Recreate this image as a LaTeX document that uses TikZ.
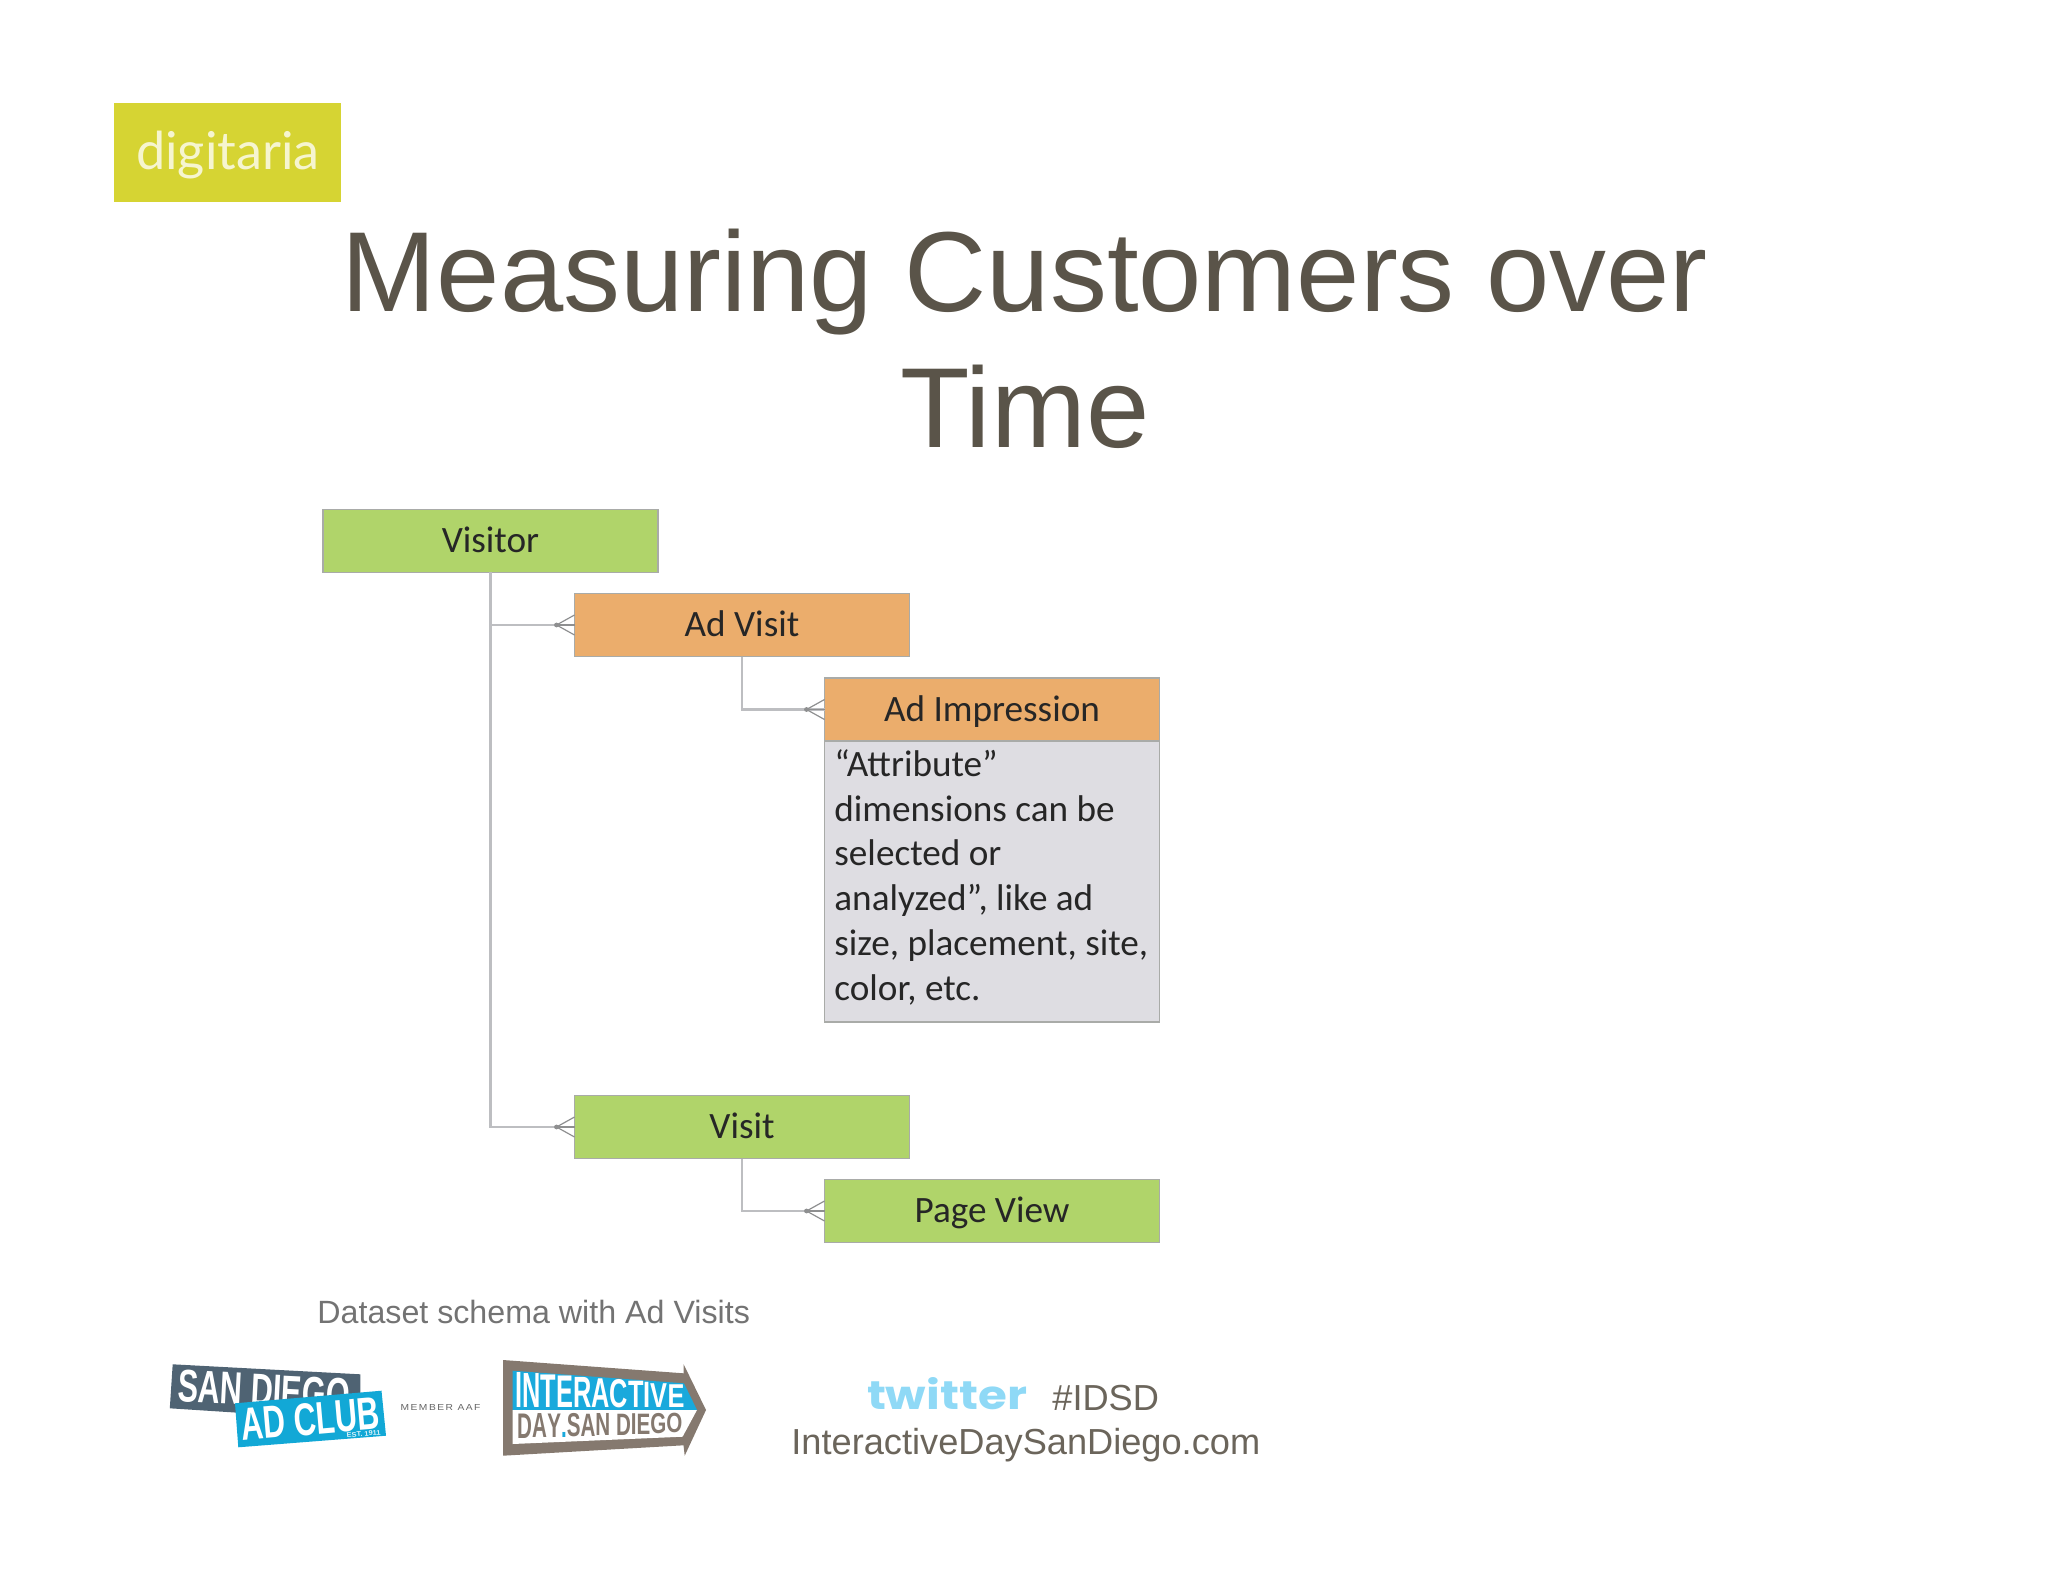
\documentclass[tikz,border=0pt]{standalone}
\usepackage{fontspec}
\usepackage{graphicx}
\setmainfont{Liberation Sans}
\newfontfamily\calfont{Carlito}
\newfontfamily\latofont{Lato}
\newfontfamily\popfont{Poppins}
\definecolor{titlegray}{HTML}{5A5449}
\definecolor{boxgreen}{HTML}{B0D46A}
\definecolor{boxorange}{HTML}{EBAD6C}
\definecolor{boxgray}{HTML}{DEDDE2}
\definecolor{boxline}{HTML}{A9ABA8}
\definecolor{connline}{HTML}{BDBEC1}
\definecolor{crowline}{HTML}{8E8F90}
\definecolor{clubdark}{HTML}{4F6373}
\definecolor{clubblue}{HTML}{12A8D6}
\definecolor{arrowbrown}{HTML}{85796F}
\definecolor{arrowblue}{HTML}{19A9DC}
\definecolor{digilime}{HTML}{D6D433}
\definecolor{digitext}{HTML}{F6F5CF}
\definecolor{twitblue}{HTML}{8FD9F6}
\newcommand\dropl[2]{\raisebox{\fpeval{(1-#1)*0.72}em}{\scalebox{1}[#1]{#2}}}
\newcommand\risel[2]{\scalebox{1}[#1]{#2}}
\newcommand\crowfoot[1]{%
  \draw[crow] ([shift={(-18,0)}]#1.west) -- ([shift={(0,-10)}]#1.west);
  \draw[crow] ([shift={(-18,0)}]#1.west) -- ([shift={(0,10)}]#1.west);
  \draw[crow] ([shift={(-18,0)}]#1.west) -- (#1.west);
  \fill[crowline] ([shift={(-18,0)}]#1.west) circle[radius=1.2pt];
}
\tikzset{
  entity/.style={draw=boxline,line width=0.9pt,minimum width=167.5pt,minimum height=31.5pt,inner sep=0pt,outer sep=0pt,
    text height=11.8pt,text depth=0pt,
    font=\calfont\fontsize{18.6}{22.4}\selectfont,text=black!85},
  greenbox/.style={entity,fill=boxgreen},
  orangebox/.style={entity,fill=boxorange},
  conn/.style={draw=connline,line width=1.1pt},
  crow/.style={draw=crowline,line width=0.6pt},
  logotext/.style={inner sep=0pt,outer sep=0pt},
}
\begin{document}
\begin{tikzpicture}[x=0.5pt,y=-0.5pt]
\useasboundingbox (0,0) rectangle (2048,1582);
% digitaria logo
\node[fill=digilime,minimum width=113.5pt,minimum height=49.5pt,inner sep=0pt,outer sep=0pt] (digi) at (227.5,152.5) {};
\node[logotext,text=digitext,anchor=center] (digitext) at (228,155) {\latofont\fontsize{26.1}{28}\selectfont digitaria};
% title
\node[align=center,text=titlegray,font=\fontsize{56.9}{68}\selectfont,inner sep=0pt] (title) at (1025,339) {Measuring Customers over\\Time};
% entities
\node[greenbox] (visitor) at (490.5,541) {Visitor};
\node[orangebox] (advisit) at (742,625) {Ad Visit};
\node[orangebox] (adimp) at (992,709.5) {Ad Impression};
\node[draw=boxline,fill=boxgray,line width=0.9pt,minimum width=167.5pt,minimum height=140.5pt,inner sep=0pt,outer sep=0pt,anchor=north] (attr) at (adimp.south) {};
\node[anchor=north west,align=left,inner sep=0pt,text=black!85,font=\calfont\fontsize{18.6}{22.4}\selectfont] (attrtext) at (834,749) {“Attribute”\\dimensions can be\\selected or\\analyzed”, like ad\\size, placement, site,\\color, etc.};
\node[greenbox] (visit) at (742,1127) {Visit};
\node[greenbox] (pageview) at (992,1211) {Page View};
% connectors
\draw[conn] (visitor.south) -- (visitor.south |- visit.west) -- (visit.west);
\draw[conn] (visitor.south |- advisit.west) -- (advisit.west);
\draw[conn] (advisit.south) |- (adimp.west);
\draw[conn] (visit.south) |- (pageview.west);
\crowfoot{advisit}
\crowfoot{adimp}
\crowfoot{visit}
\crowfoot{pageview}
% caption
\node[inner sep=0pt,text=black!55,anchor=base west,font=\fontsize{16.1}{19}\selectfont] (caption) at (317,1323) {Dataset schema with Ad Visits};
% San Diego Ad Club logo
\fill[clubdark] (172.7,1364.3) -- (360.3,1374.3) -- (360.3,1393.3) -- (238,1412.7) -- (169.8,1408.3) -- cycle;
\node[logotext,text=white,rotate=-3] (sandiego) at (264,1390.5) {\resizebox{86pt}{16pt}{\bfseries SAN DIEGO}};
\fill[clubblue] (235,1403.3) -- (381.5,1390.7) -- (386,1435.7) -- (238.3,1447.3) -- cycle;
\node[logotext,text=white,rotate=5] (adclub) at (310.5,1419) {\resizebox{69.5pt}{16pt}{\bfseries AD CLUB}};
\node[logotext,text=white!85!clubblue,rotate=5] (est) at (363.6,1434) {\resizebox{17pt}{2.4pt}{\bfseries EST. 1911}};
\node[logotext,text=black!60] (member) at (440.5,1407) {\resizebox{40pt}{3pt}{\addfontfeatures{LetterSpace=15}MEMBER AAF}};
% Interactive Day arrow
\fill[arrowbrown] (503,1360) -- (683.5,1373.3) -- (683.5,1364) -- (706,1410) -- (684.7,1455.7) -- (683.5,1445.3) -- (503,1455.7) -- cycle;
\fill[arrowblue] (512.5,1370.7) -- (684,1383.3) -- (697,1410) -- (512.5,1410) -- cycle;
\fill[white] (512.5,1410) -- (697,1410) -- (682.6,1436.7) -- (512.5,1444) -- cycle;
\node[logotext,text=white,anchor=south] (interactive) at (600,1408.3) {\resizebox{84.5pt}{17.5pt}{\bfseries \risel{1}{I}\risel{.97}{N}\risel{.93}{T}\risel{.9}{E}\risel{.86}{R}\risel{.82}{A}\risel{.79}{C}\risel{.75}{T}\risel{.72}{I}\risel{.68}{V}\risel{.65}{E}}};
\node[logotext,text=arrowbrown] (dayline) at (600,1426) {\resizebox{82.5pt}{12.5pt}{\bfseries \dropl{1}{D}\dropl{.98}{A}\dropl{.96}{Y}\dropl{.95}{\textcolor{arrowblue}{.}}\dropl{.93}{S}\dropl{.91}{A}\dropl{.9}{N}\ \dropl{.87}{D}\dropl{.85}{I}\dropl{.83}{E}\dropl{.81}{G}\dropl{.78}{O}}};
% twitter and url
\node[logotext,text=twitblue,anchor=center] (twitter) at (947,1394) {\resizebox{80pt}{16pt}{\popfont\bfseries twitter}};
\node[inner sep=0pt,text=titlegray!90,anchor=base west,font=\fontsize{18.1}{22}\selectfont] (idsd) at (1052,1410) {\#IDSD};
\node[inner sep=0pt,text=titlegray!90,anchor=base west,font=\fontsize{18.1}{22}\selectfont] (url) at (791,1454) {InteractiveDaySanDiego.com};
\end{tikzpicture}
\end{document}
